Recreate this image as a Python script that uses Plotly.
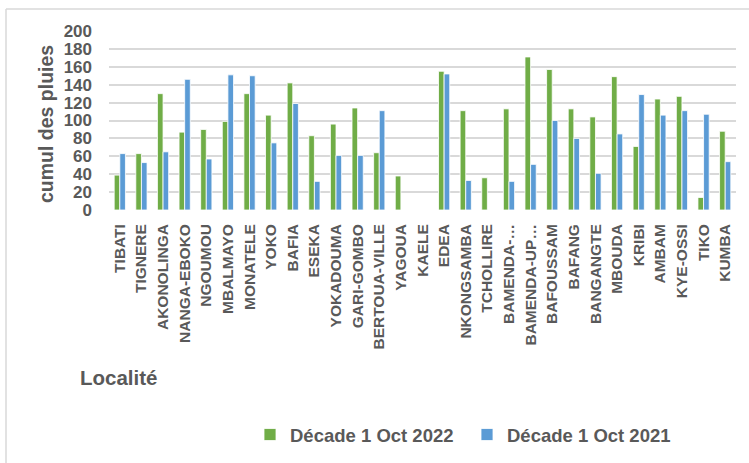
import plotly.graph_objects as go

categories = ["TIBATI", "TIGNERE", "AKONOLINGA", "NANGA-EBOKO", "NGOUMOU", "MBALMAYO",
              "MONATELE", "YOKO", "BAFIA", "ESEKA", "YOKADOUMA", "GARI-GOMBO",
              "BERTOUA-VILLE", "YAGOUA", "KAELE", "EDEA", "NKONGSAMBA", "TCHOLLIRE",
              "BAMENDA-…", "BAMENDA-UP…", "BAFOUSSAM", "BAFANG", "BANGANGTE", "MBOUDA",
              "KRIBI", "AMBAM", "KYE-OSSI", "TIKO", "KUMBA"]

oct_2022 = [39, 63, 130, 87, 90, 99, 130, 106, 142, 83, 96, 114,
            64, 38, None, 155, 111, 36, 113, 171, 157, 113, 104, 149,
            71, 124, 127, 14, 88]

oct_2021 = [63, 53, 65, 146, 57, 151, 150, 75, 119, 32, 61, 61,
            111, None, None, 152, 33, None, 32, 51, 100, 80, 41, 85,
            129, 106, 111, 107, 54]

y_ticks = [0, 20, 40, 60, 80, 100, 120, 140, 160, 180, 200]

GREEN = "#70AD47"
BLUE = "#5B9BD5"
TEXT = "#595959"
GRID = "#D9D9D9"
FONT = "Liberation Sans, Arial, sans-serif"

fig = go.Figure()
fig.add_trace(go.Bar(x=categories, y=oct_2022, name="Décade 1 Oct 2022",
                     marker=dict(color=GREEN, line=dict(color="white", width=0.8))))
fig.add_trace(go.Bar(x=categories, y=oct_2021, name="Décade 1 Oct 2021",
                     marker=dict(color=BLUE, line=dict(color="white", width=0.8))))

W, H = 749, 463
L, R, T, B = 109, 13, 31, 253
pw, ph = W - L - R, H - T - B


def px(x):
    return (x - L) / pw


def py(y):
    return (H - B - y) / ph


fig.update_layout(
    width=W, height=H,
    margin=dict(l=L, r=R, t=T, b=B, autoexpand=False),
    paper_bgcolor="white", plot_bgcolor="white",
    font=dict(family=FONT, color=TEXT),
    barmode="group", bargap=0.48, bargroupgap=0.0,
    showlegend=True,
    legend=dict(orientation="h", x=px(250), y=py(435), xanchor="left", yanchor="middle",
                font=dict(size=18.5, family=FONT, color=TEXT, weight="bold"),
                bgcolor="rgba(0,0,0,0)", itemclick=False,
                entrywidth=172, entrywidthmode="pixels"),
    xaxis=dict(type="category", tickangle=-90, showgrid=False, ticks="",
               showline=False, ticklabelstandoff=10,
               tickfont=dict(size=15.5, family=FONT, color=TEXT, weight="bold")),
    yaxis=dict(range=[0, 200], tickvals=y_ticks, showgrid=True, gridcolor=GRID,
               gridwidth=1.5, zeroline=False, showline=False, ticks="",
               ticklabelstandoff=16,
               tickfont=dict(size=17, family=FONT, color=TEXT, weight="bold")),
    annotations=[
        dict(text="<b>cumul des pluies</b>", xref="paper", yref="paper",
             x=px(46), y=py(124), xanchor="center", yanchor="middle",
             textangle=-90, showarrow=False,
             font=dict(size=19.5, family=FONT, color=TEXT)),
        dict(text="<b>Localité</b>", xref="paper", yref="paper",
             x=px(78), y=py(377), xanchor="left", yanchor="middle",
             showarrow=False, font=dict(size=20.5, family=FONT, color=TEXT)),
    ],
    shapes=[
        dict(type="line", xref="paper", yref="paper", x0=px(6), x1=px(749),
             y0=py(9), y1=py(9), line=dict(color=GRID, width=1.5)),
        dict(type="line", xref="paper", yref="paper", x0=px(6), x1=px(6),
             y0=py(9), y1=py(463), line=dict(color=GRID, width=1.5)),
    ],
)

fig.write_html("out.html",
               config={"displayModeBar": False},
               post_script="document.body.style.margin='0';document.body.style.overflow='hidden';")
